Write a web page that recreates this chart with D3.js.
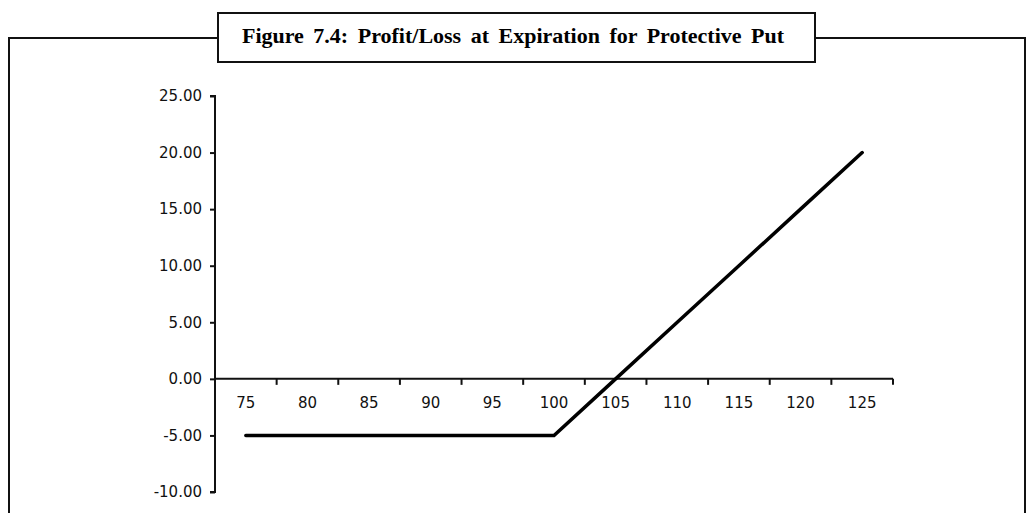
<!DOCTYPE html>
<html>
<head>
<meta charset="utf-8">
<script src="https://cdn.jsdelivr.net/npm/d3@7"></script>
<style>
  body { margin: 0; background: #fff; }
  svg { display: block; }
</style>
</head>
<body>
<div id="chart-area"></div>
<script>
// stock price at expiration and profit/loss of the protective put
var prices = ["75", "80", "85", "90", "95", "100", "105", "110", "115", "120", "125"]
var profit = [-5, -5, -5, -5, -5, -5, 0, 5, 10, 15, 20]
var yTicks = [-10, -5, 0, 5, 10, 15, 20, 25]
var title = "Figure 7.4: Profit/Loss at Expiration for Protective Put"

var cw = 1027
var ch = 513

var svg = d3.select("#chart-area").append("svg")
    .attr("width", cw)
    .attr("height", ch)

// outer frame (open at the bottom)
svg.append("path")
    .attr("d", "M9,513 V38 H1025 V513")
    .attr("fill", "none")
    .attr("stroke", "#111")
    .attr("stroke-width", 2)

// title box
svg.append("rect")
    .attr("x", 218)
    .attr("y", 13)
    .attr("width", 597)
    .attr("height", 49)
    .attr("fill", "#fff")
    .attr("stroke", "#111")
    .attr("stroke-width", 2)

svg.append("text")
    .attr("x", 513)
    .attr("y", 43)
    .attr("text-anchor", "middle")
    .attr("font-family", "Liberation Serif, serif")
    .attr("font-weight", "bold")
    .attr("font-size", "22px")
    .attr("word-spacing", "4px")
    .text(title)

var x = d3.scaleBand()
    .domain(prices)
    .range([215, 893])
    .padding(0)

var y = d3.scaleLinear()
    .domain([-10, 25])
    .range([492, 96])

var font = "DejaVu Sans, Verdana, sans-serif"
var fmt = d => d3.format(".2f")(d).replace("\u2212", "-")

// y axis
var leftAxis = d3.axisLeft(y)
    .tickValues(yTicks)
    .tickFormat(fmt)
    .tickSize(5)
    .tickPadding(8)

var gy = svg.append("g")
    .attr("transform", "translate(" + x.range()[0] + ",0)")
    .call(leftAxis)
gy.select(".domain").attr("stroke", "#111").attr("stroke-width", 2).attr("d", "M-5," + y(-10) + "H0V" + y(25) + "H-5")
gy.selectAll(".tick line").attr("stroke", "#111").attr("stroke-width", 2)
gy.selectAll("text").attr("font-family", font).attr("font-size", "15px").attr("fill", "#111")

// x axis at zero, ticks between categories
var gx = svg.append("g")
    .attr("transform", "translate(0," + y(0) + ")")
    .call(d3.axisBottom(x).tickSize(0).tickPadding(19))
gx.select(".domain").attr("stroke", "#111").attr("stroke-width", 2).attr("d", "M" + x.range()[0] + ",0H" + x.range()[1])
gx.selectAll("text").attr("font-family", font).attr("font-size", "15px").attr("fill", "#111")

var bounds = prices.map(p => x(p)).slice(1).concat([x.range()[1]])
gx.selectAll(".btick")
    .data(bounds).enter().append("line")
    .attr("class", "btick")
    .attr("x1", d => d)
    .attr("x2", d => d)
    .attr("y1", 0)
    .attr("y2", 6)
    .attr("stroke", "#111")
    .attr("stroke-width", 2)

// profit line
var line = d3.line()
    .x((d, i) => x(prices[i]) + x.bandwidth() / 2)
    .y(d => y(d))

svg.append("path")
    .datum(profit)
    .attr("d", line)
    .attr("fill", "none")
    .attr("stroke", "#000")
    .attr("stroke-width", 3.5)
    .attr("stroke-linecap", "round")
</script>
</body>
</html>
